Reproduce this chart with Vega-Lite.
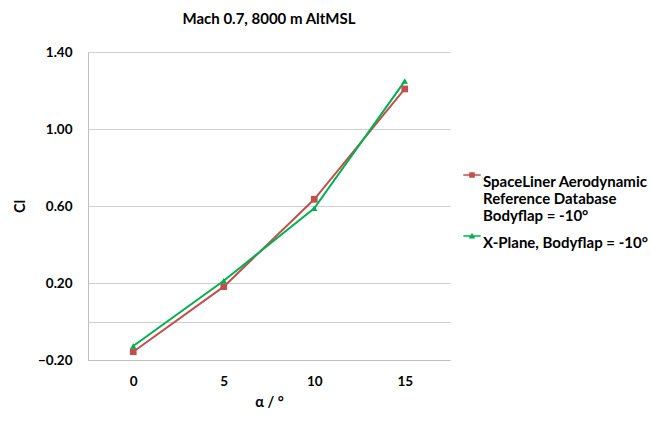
{
  "$schema": "https://vega.github.io/schema/vega-lite/v6.json",
  "width": 362,
  "height": 308,
  "autosize": {"type": "none"},
  "padding": {"left": 88, "top": 52, "right": 201, "bottom": 63},
  "background": "white",
  "config": {
    "view": {"stroke": null},
    "font": "Lato",
    "axis": {"labelFont": "Lato", "titleFont": "Lato", "labelFontWeight": "bold", "titleFontWeight": "bold", "labelColor": "#000", "titleColor": "#000", "labelFontSize": 13.5, "titleFontSize": 14.5, "ticks": false, "domainColor": "#BFBFBF", "gridColor": "#D0D0D0", "gridWidth": 1.2}
  },
  "title": {"text": "Mach 0.7, 8000 m AltMSL", "frame": "group", "anchor": "middle", "font": "Lato", "fontSize": 15, "fontWeight": "bold", "color": "#000", "offset": 18},
  "data": {"values": [
    {"alpha": 0, "cl": -0.157, "series": "SpaceLiner Aerodynamic Reference Database Bodyflap = -10°"},
    {"alpha": 5, "cl": 0.181, "series": "SpaceLiner Aerodynamic Reference Database Bodyflap = -10°"},
    {"alpha": 10, "cl": 0.635, "series": "SpaceLiner Aerodynamic Reference Database Bodyflap = -10°"},
    {"alpha": 15, "cl": 1.208, "series": "SpaceLiner Aerodynamic Reference Database Bodyflap = -10°"},
    {"alpha": 0, "cl": -0.127, "series": "X-Plane, Bodyflap = -10°"},
    {"alpha": 5, "cl": 0.212, "series": "X-Plane, Bodyflap = -10°"},
    {"alpha": 10, "cl": 0.588, "series": "X-Plane, Bodyflap = -10°"},
    {"alpha": 15, "cl": 1.249, "series": "X-Plane, Bodyflap = -10°"}
  ]},
  "encoding": {
    "x": {"field": "alpha", "type": "quantitative", "scale": {"domain": [-2.5, 17.5], "nice": false, "zero": false},
      "axis": {"values": [0, 5, 10, 15], "grid": false, "title": "α / °", "labelPadding": 14, "titlePadding": 8}},
    "y": {"field": "cl", "type": "quantitative", "scale": {"domain": [-0.2, 1.4], "nice": false, "zero": false},
      "axis": {"values": [-0.2, 0, 0.2, 0.6, 1.0, 1.4], "labelExpr": "datum.value == 0 ? '' : format(datum.value, '.2f')", "title": "Cl", "labelPadding": 16, "titlePadding": 10}},
    "color": {"field": "series", "type": "nominal",
      "scale": {"domain": ["SpaceLiner Aerodynamic Reference Database Bodyflap = -10°", "X-Plane, Bodyflap = -10°"], "range": ["#C0504D", "#00B050"]},
      "legend": {"title": null, "orient": "none", "legendX": 375, "legendY": 114, "symbolOpacity": 1, "symbolSize": 300, "symbolStrokeWidth": 0, "labelFont": "Lato", "labelFontWeight": "bold", "labelFontSize": 15, "labelColor": "#000", "labelLimit": 300, "labelBaseline": "top", "labelOffset": 2, "rowPadding": 3,
            "labelExpr": "datum.label == 'X-Plane, Bodyflap = -10°' ? datum.label : ['SpaceLiner Aerodynamic', 'Reference Database', 'Bodyflap = -10°']"}}
  },
  "layer": [
    {"mark": {"type": "line", "strokeWidth": 2}},
    {"transform": [{"filter": "datum.series != 'X-Plane, Bodyflap = -10°'"}], "mark": {"type": "point", "shape": "square", "filled": true, "opacity": 1, "size": 45}},
    {"transform": [{"filter": "datum.series == 'X-Plane, Bodyflap = -10°'"}], "mark": {"type": "point", "shape": "triangle-up", "filled": true, "opacity": 1, "size": 40}},
    {"mark": {"type": "point", "filled": true, "opacity": 0},
      "encoding": {
        "shape": {"field": "series", "type": "nominal",
          "scale": {"domain": ["SpaceLiner Aerodynamic Reference Database Bodyflap = -10°", "X-Plane, Bodyflap = -10°"], "range": ["M-1,-0.08H1V0.08H-1Z M-0.32,-0.32H0.32V0.32H-0.32Z", "M-1,-0.08H1V0.08H-1Z M0,-0.38L0.38,0.28H-0.38Z"]},
          "legend": {"title": null, "orient": "none", "legendX": 375, "legendY": 114, "symbolOpacity": 1, "symbolSize": 300, "symbolStrokeWidth": 0, "labelFont": "Lato", "labelFontWeight": "bold", "labelFontSize": 15, "labelColor": "#000", "labelLimit": 300, "labelBaseline": "top", "labelOffset": 2, "rowPadding": 3,
            "labelExpr": "datum.label == 'X-Plane, Bodyflap = -10°' ? datum.label : ['SpaceLiner Aerodynamic', 'Reference Database', 'Bodyflap = -10°']"}}
      }
    }
  ]
}
